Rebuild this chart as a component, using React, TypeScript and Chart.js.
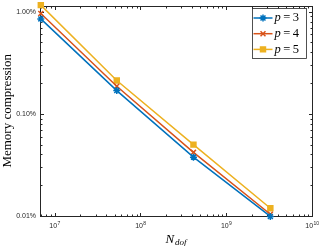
import React, { useEffect, useRef } from "react";
import { Chart, registerables } from "chart.js";
import { drawPoint } from "chart.js/helpers";

Chart.register(...registerables);

// ---- data ----
const nDof = [6.9e6, 5.3e7, 4.15e8, 3.27e9];
const pValues = [3, 4, 5];
const memP3 = [0.85, 0.169, 0.0377, 0.0099];
const memP4 = [0.96, 0.186, 0.042, 0.0104];
const memP5 = [1.16, 0.212, 0.05, 0.0119];
const yTickValues = [0.01, 0.1, 1];
const xTickExponents = [7, 8, 9, 10];

const seriesColors = ["#0072BD", "#D95319", "#EDB120"];
const seriesStyles = ["star", "crossRot", "rect"];
const seriesData = [memP3, memP4, memP5];

const AXIS_COLOR = "#262626";
const SERIF = "'Liberation Serif', 'DejaVu Serif', serif";
const SANS = "'Liberation Sans', Arial, sans-serif";

const axesPlugin = {
  id: "matlabAxes",
  beforeDatasetsDraw(chart: any) {
    const { ctx, chartArea: a, scales } = chart;
    const xs = scales.x;
    const ys = scales.y;
    const L = Math.round(a.left) + 0.5;
    const R = Math.round(a.right) + 0.5;
    const T = Math.round(a.top) + 0.5;
    const B = Math.round(a.bottom) + 0.5;
    ctx.save();
    ctx.strokeStyle = AXIS_COLOR;
    ctx.lineWidth = 1;
    ctx.strokeRect(L, T, R - L, B - T);

    // x ticks
    ctx.beginPath();
    const ex0 = Math.floor(Math.log10(xs.min));
    const ex1 = Math.ceil(Math.log10(xs.max));
    for (let e = ex0; e <= ex1; e++) {
      for (let m = 1; m <= 9; m++) {
        const v = m * Math.pow(10, e);
        if (v < xs.min * 0.999 || v > xs.max * 1.001) continue;
        const px = Math.round(xs.getPixelForValue(v)) + 0.5;
        const len = m === 1 ? 3.5 : 2;
        ctx.moveTo(px, B);
        ctx.lineTo(px, B - len);
        ctx.moveTo(px, T);
        ctx.lineTo(px, T + len);
      }
    }
    // y ticks
    const ey0 = Math.floor(Math.log10(ys.min));
    const ey1 = Math.ceil(Math.log10(ys.max));
    for (let e = ey0; e <= ey1; e++) {
      for (let m = 1; m <= 9; m++) {
        const v = m * Math.pow(10, e);
        if (v < ys.min * 0.999 || v > ys.max * 1.001) continue;
        const py = Math.round(ys.getPixelForValue(v)) + 0.5;
        const len = m === 1 ? 3.5 : 2;
        ctx.moveTo(L, py);
        ctx.lineTo(L + len, py);
        ctx.moveTo(R, py);
        ctx.lineTo(R - len, py);
      }
    }
    ctx.stroke();

    // y tick labels
    ctx.fillStyle = AXIS_COLOR;
    ctx.font = `7px ${SANS}`;
    ctx.textAlign = "right";
    ctx.textBaseline = "middle";
    for (const v of yTickValues) {
      ctx.fillText(v.toFixed(2) + "%", a.left - 4, ys.getPixelForValue(v));
    }

    // x tick labels 10^e
    ctx.textBaseline = "alphabetic";
    ctx.textAlign = "left";
    for (const e of xTickExponents) {
      const px = xs.getPixelForValue(Math.pow(10, e));
      ctx.font = `7px ${SANS}`;
      const wBase = ctx.measureText("10").width;
      ctx.font = `5px ${SANS}`;
      const wExp = ctx.measureText(String(e)).width;
      const x0 = px - (wBase + wExp) / 2;
      ctx.font = `7px ${SANS}`;
      ctx.fillText("10", x0, a.bottom + 12);
      ctx.font = `5px ${SANS}`;
      ctx.fillText(String(e), x0 + wBase + 0.3, a.bottom + 8.5);
    }

    // axis titles
    ctx.fillStyle = "#000";
    ctx.save();
    ctx.translate(8, (a.top + a.bottom) / 2);
    ctx.rotate(-Math.PI / 2);
    ctx.textAlign = "center";
    ctx.textBaseline = "middle";
    ctx.font = `13px ${SERIF}`;
    ctx.fillText("Memory compression", 0, 0);
    ctx.restore();

    const cx = (a.left + a.right) / 2;
    ctx.font = `italic 13px ${SERIF}`;
    const wN = ctx.measureText("N").width;
    ctx.font = `italic 9px ${SERIF}`;
    const wSub = ctx.measureText("dof").width;
    const xStart = cx - (wN + wSub + 1) / 2;
    ctx.textAlign = "left";
    ctx.font = `italic 13px ${SERIF}`;
    ctx.fillText("N", xStart, 242.5);
    ctx.font = `italic 9px ${SERIF}`;
    ctx.fillText("dof", xStart + wN + 1, 245);
    ctx.restore();
  },
  afterDraw(chart: any) {
    const { ctx, chartArea: a } = chart;
    const bx = Math.round(a.right - 60) + 0.5;
    const by = Math.round(a.top + 2) + 0.5;
    const bw = 54;
    const bh = 50;
    ctx.save();
    ctx.fillStyle = "#fff";
    ctx.fillRect(bx, by, bw, bh);
    ctx.strokeStyle = AXIS_COLOR;
    ctx.lineWidth = 0.8;
    ctx.strokeRect(bx, by, bw, bh);
    chart.data.datasets.forEach((ds: any, i: number) => {
      const yc = by + 9.5 + i * 15.7;
      ctx.strokeStyle = ds.borderColor;
      ctx.lineWidth = 1.5;
      ctx.beginPath();
      ctx.moveTo(bx + 1, yc);
      ctx.lineTo(bx + 20, yc);
      ctx.stroke();
      ctx.fillStyle = ds.backgroundColor;
      drawPoint(ctx, { pointStyle: ds.pointStyle, radius: ds.pointRadius, rotation: 0, borderWidth: ds.pointBorderWidth }, bx + 10.5, yc);
      // label text: italic p, then "= value"
      ctx.fillStyle = "#000";
      ctx.textBaseline = "middle";
      ctx.textAlign = "left";
      const parts = String(ds.label).split(" = ");
      let tx = bx + 22;
      ctx.font = `italic 12.5px ${SERIF}`;
      ctx.fillText(parts[0], tx, yc);
      tx += ctx.measureText(parts[0]).width + 2.5;
      ctx.font = `12.5px ${SERIF}`;
      ctx.fillText("=", tx, yc);
      tx += ctx.measureText("=").width + 2.5;
      ctx.fillText(parts[1], tx, yc);
    });
    ctx.restore();
  },
};

export default function App() {
  const ref = useRef<HTMLCanvasElement | null>(null);
  useEffect(() => {
    if (!ref.current) return;
    const datasets = seriesData.map((arr, i) => ({
      label: `p = ${pValues[i]}`,
      data: arr.map((y, j) => ({ x: nDof[j], y })),
      borderColor: seriesColors[i],
      backgroundColor: seriesColors[i],
      pointStyle: seriesStyles[i],
      pointRadius: seriesStyles[i] === "rect" ? 3.5 : 3.5,
      pointBorderWidth: 1.5,
      pointBackgroundColor: seriesColors[i],
      pointBorderColor: seriesColors[i],
      borderWidth: 1.5,
      tension: 0,
      clip: false as any,
    }));
    const chart = new Chart(ref.current, {
      type: "line",
      data: { datasets },
      options: {
        animation: false,
        responsive: false,
        devicePixelRatio: 1,
        layout: { padding: { left: 40, right: 7, top: 4, bottom: 30 } },
        plugins: { legend: { display: false }, tooltip: { enabled: false } },
        scales: {
          x: { type: "logarithmic", min: 6.75e6, max: 1e10, display: false },
          y: { type: "logarithmic", min: 0.01, max: 1.15, display: false },
        },
      },
      plugins: [axesPlugin],
    });
    return () => chart.destroy();
  }, []);
  return (
    <div style={{ position: "absolute", left: 0, top: 0, width: 319, height: 246, background: "#fff" }}>
      <canvas ref={ref} width={319} height={246} style={{ display: "block" }} />
    </div>
  );
}
